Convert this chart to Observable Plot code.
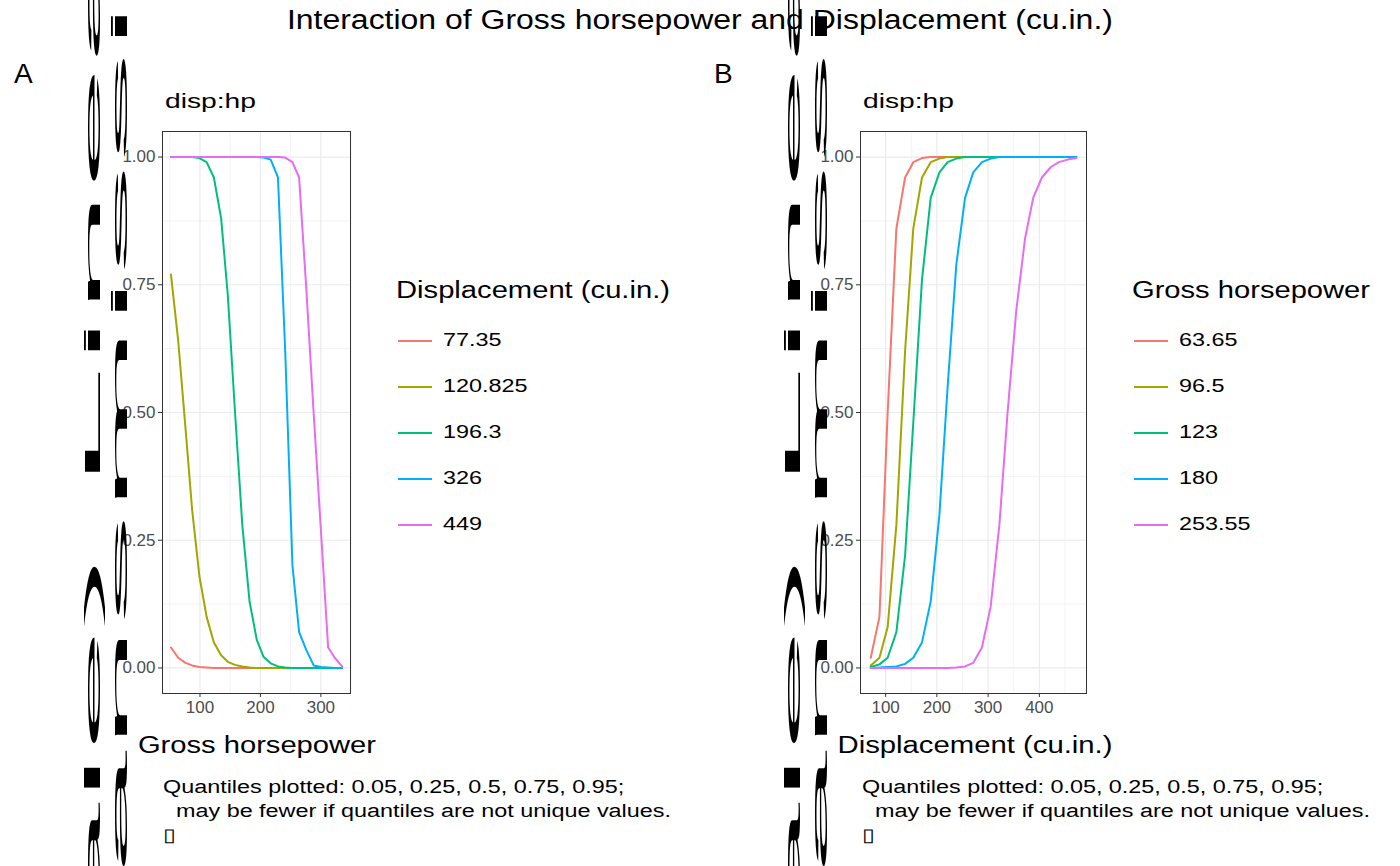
<!DOCTYPE html>
<html>
<head>
<meta charset="UTF-8" />
<style>
  body { margin: 0; width: 1400px; height: 866px; position: relative; background: #fff;
         font-family: "Liberation Sans", Arial, sans-serif; color: #000; overflow: hidden; }
  .abs { position: absolute; white-space: nowrap; }
  .panel { position: absolute; top: 0; }
  .fit { display: inline-block; white-space: nowrap; }
  .ylab { position: absolute; transform: rotate(-90deg); transform-origin: center; text-align: center;
          font-size: 22px; line-height: 27px; width: 700px; }
  .leg-item { position: absolute; font-size: 18px; }
  .leg-item span.ln { position: absolute; width: 34px; height: 2px; top: 10px; left: 0; }
  .leg-item span.tx { position: absolute; left: 45px; top: 0; }
</style>
</head>
<body>
<div class="abs" style="left:0;width:1400px;text-align:center;top:5px;font-size:27px"><span class="fit" data-w="826" data-o="center">Interaction of Gross horsepower and Displacement (cu.in.)</span></div>
<div class="abs" style="left:14px;top:58px;font-size:28px">A</div>
<div class="abs" style="left:714px;top:58px;font-size:28px">B</div>
<div class="abs" style="left:165px;top:89px;font-size:21px"><span class="fit" data-w="91">disp:hp</span></div>
<div class="abs" style="left:863px;top:89px;font-size:21px"><span class="fit" data-w="91">disp:hp</span></div>
<div id="pa" class="panel" style="left:0"></div>
<div id="pb" class="panel" style="left:700px"></div>
<div class="ylab" style="left:-244px;top:388px"><span class="fit" data-w="552" data-o="center">(Response-scale) Linear prediction of:<br>Transmission</span></div>
<div class="ylab" style="left:456px;top:388px"><span class="fit" data-w="552" data-o="center">(Response-scale) Linear prediction of:<br>Transmission</span></div>
<div class="abs" style="left:57px;width:400px;text-align:center;top:732px;font-size:23px"><span class="fit" data-w="238" data-o="center">Gross horsepower</span></div>
<div class="abs" style="left:775px;width:400px;text-align:center;top:732px;font-size:23px"><span class="fit" data-w="275" data-o="center">Displacement (cu.in.)</span></div>
<div class="abs" style="left:163px;top:775px;font-size:18px;line-height:24px"><span class="fit" data-w="508">Quantiles plotted: 0.05, 0.25, 0.5, 0.75, 0.95;<br>&nbsp; may be fewer if quantiles are not unique values.<br>▯</span></div>
<div class="abs" style="left:862px;top:775px;font-size:18px;line-height:24px"><span class="fit" data-w="508">Quantiles plotted: 0.05, 0.25, 0.5, 0.75, 0.95;<br>&nbsp; may be fewer if quantiles are not unique values.<br>▯</span></div>
<div id="lega"></div>
<div id="legb"></div>
<script src="https://cdn.jsdelivr.net/npm/d3@7"></script>
<script src="https://cdn.jsdelivr.net/npm/@observablehq/plot@0.6"></script>
<script>
const colors = ["#F8766D", "#A3A500", "#00BF7D", "#00B0F6", "#E76BF3"];

// panel A: x = hp, series = displacement
const hpX = [52, 64, 76, 87, 99, 111, 123, 135, 146, 158, 170, 182, 194, 205, 217, 229, 241, 253, 264, 276, 288, 300, 312, 323, 335];
const dispLevels = ["77.35", "120.825", "196.3", "326", "449"];
const aRed   = [0.04, 0.02, 0.01, 0.005, 0.002, 0.001, 0, 0, 0, 0, 0, 0, 0, 0, 0, 0, 0, 0, 0, 0, 0, 0, 0, 0, 0];
const aOlive = [0.77, 0.64, 0.47, 0.31, 0.18, 0.10, 0.05, 0.025, 0.012, 0.006, 0.003, 0.001, 0, 0, 0, 0, 0, 0, 0, 0, 0, 0, 0, 0, 0];
const aGreen = [1, 1, 1, 1, 0.998, 0.99, 0.96, 0.88, 0.73, 0.5, 0.28, 0.13, 0.055, 0.022, 0.009, 0.003, 0.001, 0, 0, 0, 0, 0, 0, 0, 0];
const aBlue  = [1, 1, 1, 1, 1, 1, 1, 1, 1, 1, 1, 1, 1, 0.999, 0.995, 0.96, 0.62, 0.2, 0.07, 0.035, 0.005, 0.002, 0.001, 0, 0];
const aPink  = [1, 1, 1, 1, 1, 1, 1, 1, 1, 1, 1, 1, 1, 1, 1, 1, 0.999, 0.99, 0.96, 0.74, 0.5, 0.27, 0.04, 0.02, 0.003];

// panel B: x = disp, series = hp
const dispX = [71, 88, 104, 121, 138, 154, 171, 188, 205, 221, 238, 255, 271, 288, 305, 322, 338, 355, 372, 388, 405, 422, 438, 455, 472];
const hpLevels = ["63.65", "96.5", "123", "180", "253.55"];
const bRed   = [0.02, 0.1, 0.5, 0.86, 0.96, 0.99, 0.998, 1, 1, 1, 1, 1, 1, 1, 1, 1, 1, 1, 1, 1, 1, 1, 1, 1, 1];
const bOlive = [0.005, 0.02, 0.08, 0.28, 0.62, 0.86, 0.96, 0.99, 0.997, 1, 1, 1, 1, 1, 1, 1, 1, 1, 1, 1, 1, 1, 1, 1, 1];
const bGreen = [0.002, 0.007, 0.02, 0.07, 0.22, 0.48, 0.76, 0.92, 0.97, 0.99, 0.997, 1, 1, 1, 1, 1, 1, 1, 1, 1, 1, 1, 1, 1, 1];
const bBlue  = [0, 0.001, 0.002, 0.003, 0.008, 0.02, 0.05, 0.13, 0.3, 0.55, 0.79, 0.92, 0.97, 0.99, 0.997, 1, 1, 1, 1, 1, 1, 1, 1, 1, 1];
const bPink  = [0, 0, 0, 0, 0, 0, 0, 0, 0, 0, 0.001, 0.003, 0.01, 0.04, 0.12, 0.28, 0.5, 0.7, 0.84, 0.92, 0.96, 0.98, 0.99, 0.995, 0.998];

function rows(xs, levels, series) {
  const out = [];
  series.forEach((ys, k) => ys.forEach((y, i) => out.push({x: xs[i], y, g: levels[k]})));
  return out;
}

function panel(data, levels, xDomain, xTicks, xMinor, ml, mr) {
  return Plot.plot({
    width: 700, height: 866,
    marginLeft: ml, marginRight: mr, marginTop: 131, marginBottom: 173,
    style: {fontFamily: "Liberation Sans, Arial, sans-serif", fontSize: "17px"},
    x: {domain: xDomain},
    y: {domain: [-0.05, 1.05]},
    color: {domain: levels, range: colors},
    marks: [
      Plot.gridX(xMinor, {stroke: "#ebebeb", strokeOpacity: 1, strokeWidth: 0.6}),
      Plot.gridY([0.125, 0.375, 0.625, 0.875], {stroke: "#ebebeb", strokeOpacity: 1, strokeWidth: 0.6}),
      Plot.gridX(xTicks, {stroke: "#ebebeb", strokeOpacity: 1, strokeWidth: 1.2}),
      Plot.gridY([0, 0.25, 0.5, 0.75, 1], {stroke: "#ebebeb", strokeOpacity: 1, strokeWidth: 1.2}),
      Plot.line(data, {x: "x", y: "y", z: "g", stroke: "g", strokeWidth: 2}),
      Plot.frame({stroke: "#333", strokeWidth: 1}),
      Plot.axisX(xTicks, {tickSize: 4, stroke: "#333", color: "#4d4d4d", label: null, tickPadding: 3}),
      Plot.axisY([0, 0.25, 0.5, 0.75, 1], {tickSize: 4, stroke: "#333", color: "#4d4d4d", label: null, tickFormat: d3.format(".2f"), tickPadding: 3})
    ]
  });
}

document.querySelector("#pa").append(
  panel(rows(hpX, dispLevels, [aRed, aOlive, aGreen, aBlue, aPink]), dispLevels, [38, 349], [100, 200, 300], [50, 150, 250, 350], 162, 350));
document.querySelector("#pb").append(
  panel(rows(dispX, hpLevels, [bRed, bOlive, bGreen, bBlue, bPink]), hpLevels, [51, 492], [100, 200, 300, 400], [150, 250, 350, 450], 160, 314));

function legend(sel, left, title, tw, levels) {
  const el = document.querySelector(sel);
  let html = `<div class="abs" style="left:${left}px;top:277px;font-size:23px"><span class="fit" data-w="${tw}">${title}</span></div>`;
  levels.forEach((l, i) => {
    html += `<div class="leg-item" style="left:${left + 2}px;top:${330 + i * 46}px"><span class="ln" style="background:${colors[i]}"></span><span class="tx"><span class="fit" data-s="1.3">${l}</span></span></div>`;
  });
  el.innerHTML = html;
}
legend("#lega", 396, "Displacement (cu.in.)", 274, dispLevels);
legend("#legb", 1132, "Gross horsepower", 238, hpLevels);

// stretch text horizontally to the reference widths
document.querySelectorAll(".fit").forEach(s => {
  const w = s.getBoundingClientRect().width;
  const f = s.dataset.w ? +s.dataset.w / w : +s.dataset.s;
  s.style.transformOrigin = (s.dataset.o || "left") + " center";
  s.style.transform = `scaleX(${f})`;
});
</script>
</body>
</html>
